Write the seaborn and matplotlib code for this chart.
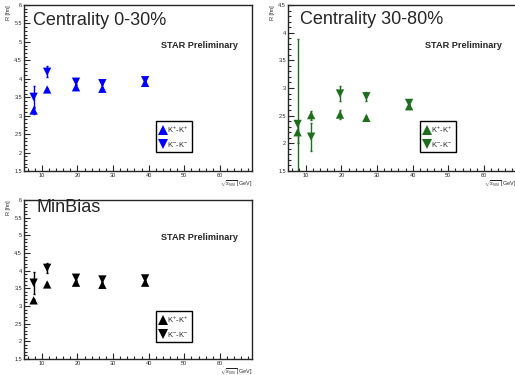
import matplotlib
matplotlib.use("Agg")
import matplotlib.pyplot as plt
from matplotlib.ticker import MultipleLocator
import seaborn as sns
import pandas as pd

# collision energies (GeV)
energy = [7.7, 11.5, 19.6, 27, 39]

# Centrality 0-30%
r_kp_0_30 = [3.14, 3.71, 3.77, 3.73, 3.89]
e_kp_0_30 = [0.10, 0.05, 0.05, 0.05, 0.04]
r_km_0_30 = [3.51, 4.19, 3.92, 3.88, 3.96]
e_km_0_30 = [0.29, 0.15, 0.06, 0.06, 0.04]

# Centrality 30-80%
r_kp_30_80 = [2.20, 2.51, 2.52, 2.46, 2.67]
e_kp_30_80 = [0.20, 0.08, 0.08, 0.04, 0.04]
r_km_30_80 = [2.35, 2.12, 2.90, 2.85, 2.73]
e_km_30_80 = [1.54, 0.25, 0.14, 0.08, 0.04]

# MinBias
r_kp_mb = [3.16, 3.61, 3.66, 3.60, 3.66]
e_kp_mb = [0.05, 0.04, 0.04, 0.04, 0.04]
r_km_mb = [3.66, 4.08, 3.80, 3.75, 3.78]
e_km_mb = [0.31, 0.15, 0.06, 0.06, 0.04]

pair_labels = [r"K$^{+}$-K$^{+}$", r"K$^{-}$-K$^{-}$"]
panel_titles = ["Centrality 0-30%", "Centrality 30-80%", "MinBias"]


def make_frame(kp, ekp, km, ekm):
    rows = []
    for e, r, err in zip(energy, kp, ekp):
        rows.append({"energy": e, "R": r, "err": err, "pair": pair_labels[0]})
    for e, r, err in zip(energy, km, ekm):
        rows.append({"energy": e, "R": r, "err": err, "pair": pair_labels[1]})
    return pd.DataFrame(rows)


frames = [
    make_frame(r_kp_0_30, e_kp_0_30, r_km_0_30, e_km_0_30),
    make_frame(r_kp_30_80, e_kp_30_80, r_km_30_80, e_km_30_80),
    make_frame(r_kp_mb, e_kp_mb, r_km_mb, e_km_mb),
]

sns.set_style("ticks")
plt.rcParams["font.family"] = ["Liberation Sans", "DejaVu Sans"]
plt.rcParams["mathtext.fontset"] = "custom"
plt.rcParams["mathtext.rm"] = "Liberation Sans"
plt.rcParams["mathtext.it"] = "Liberation Sans:italic"

fig = plt.figure(figsize=(5.15, 3.75), dpi=100)
axes = [
    fig.add_axes([0.0466, 0.544, 0.4427, 0.4427]),
    fig.add_axes([0.5592, 0.544, 0.4427, 0.4427]),
    fig.add_axes([0.0466, 0.0427, 0.4427, 0.424]),
]
colors = ["#0000ff", "#1e6e1e", "#000000"]
ylims = [(1.5, 6), (1.5, 4.5), (1.5, 6)]
title_pos = [(0.04, 0.905), (0.053, 0.91), (0.057, 0.95)]
star_y = [0.753, 0.753, 0.767]
leg_y = [0.114, 0.114, 0.107]

for ax, df, col, ylim, tp, sy, ly, title in zip(axes, frames, colors, ylims,
                                                title_pos, star_y, leg_y, panel_titles):
    for pair in pair_labels:
        sub = df[df["pair"] == pair]
        ax.errorbar(sub["energy"], sub["R"], yerr=sub["err"], fmt="none",
                    ecolor=col, elinewidth=1.0, capsize=1.0, zorder=2)
    sns.scatterplot(data=df, x="energy", y="R", style="pair",
                    markers={pair_labels[0]: "^", pair_labels[1]: "v"},
                    color=col, s=36, linewidth=0, ax=ax, zorder=3)
    ax.set_xlim(5, 69)
    ax.set_ylim(*ylim)
    ax.xaxis.set_major_locator(MultipleLocator(10))
    ax.xaxis.set_minor_locator(MultipleLocator(2))
    ax.yaxis.set_major_locator(MultipleLocator(0.5))
    ax.yaxis.set_minor_locator(MultipleLocator(0.1))
    ax.tick_params(which="both", direction="in", top=False, right=False,
                   labelsize=4, pad=1.5, width=0.8)
    ax.tick_params(which="major", length=4)
    ax.tick_params(which="minor", length=2)
    ax.set_yticks(ax.get_yticks())
    ax.set_yticklabels([f"{v:g}" for v in ax.get_yticks()])
    ax.set_ylim(*ylim)
    xt = [10, 20, 30, 40, 50, 60]
    ax.set_xticks(xt)
    ax.set_xticklabels([str(v) for v in xt])
    for sp in ax.spines.values():
        sp.set_linewidth(1.0)
    ax.set_xlabel(r"$\sqrt{s_{NN}}$ [GeV]", fontsize=4, loc="right", labelpad=0)
    ax.set_ylabel("R [fm]", fontsize=4, loc="top", labelpad=2)
    ax.text(tp[0], tp[1], title, transform=ax.transAxes, fontsize=13,
            va="center", ha="left")
    ax.text(0.60, sy, "STAR Preliminary", transform=ax.transAxes, fontsize=6.6,
            fontweight="bold", va="center", ha="left")
    leg = ax.legend(loc="lower left", bbox_to_anchor=(0.579, ly), fontsize=5.5,
                    frameon=True, fancybox=False, edgecolor="black",
                    handletextpad=0.0, handlelength=1.0, borderpad=0.45,
                    labelspacing=0.6, borderaxespad=0, markerscale=1.15)
    leg.get_frame().set_linewidth(1.0)
    leg.get_frame().set_alpha(1)
    leg.set_title(None)

fig.savefig("out.png", dpi=100)
